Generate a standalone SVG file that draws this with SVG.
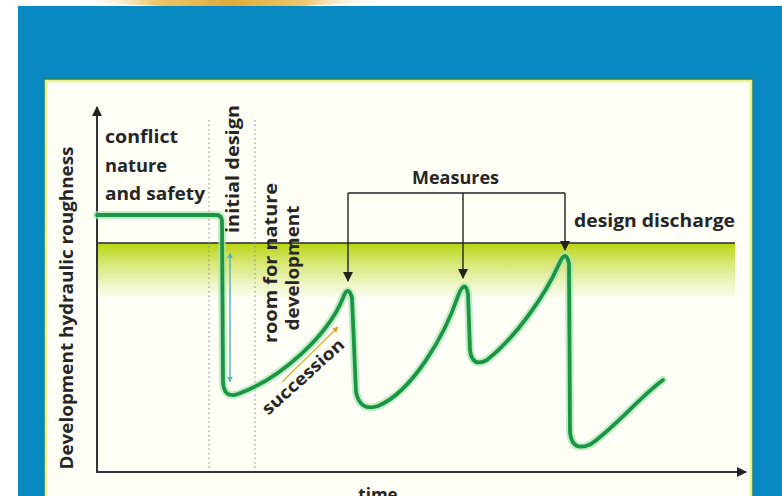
<svg xmlns="http://www.w3.org/2000/svg" width="782" height="496" viewBox="0 0 782 496">
<style>
.t{font-family:"Open Sans","DejaVu Sans",sans-serif;font-weight:700;font-size:17px;fill:#262626}
.ax{stroke:#333;stroke-width:2;fill:none}
.dot{stroke:#9a9a9a;stroke-width:1.2;stroke-dasharray:1.5 3;fill:none}
.con{stroke:#222;stroke-width:1.4;fill:none}
</style>
<defs>
<marker id="ah" viewBox="0 0 10 10" refX="9" refY="5" markerWidth="10" markerHeight="10" markerUnits="userSpaceOnUse" orient="auto">
<path d="M0,0 L10,5 L0,10 z" fill="#222"/>
</marker>
<marker id="ahs" viewBox="0 0 10 10" refX="9" refY="5" markerWidth="6" markerHeight="6" markerUnits="userSpaceOnUse" orient="auto-start-reverse">
<path d="M0,0 L10,5 L0,10 z" fill="#5ab4c8"/>
</marker>
<marker id="ahy" viewBox="0 0 10 10" refX="9" refY="5" markerWidth="6" markerHeight="6" markerUnits="userSpaceOnUse" orient="auto">
<path d="M0,0 L10,5 L0,10 z" fill="#d9a830"/>
</marker>
<linearGradient id="band" x1="0" y1="0" x2="0" y2="1">
<stop offset="0" stop-color="#b9d410"/>
<stop offset="0.35" stop-color="#d6e670"/>
<stop offset="0.75" stop-color="#eef5c6"/>
<stop offset="1" stop-color="#fbfdf0"/>
</linearGradient>
<linearGradient id="gold" x1="0" y1="0" x2="1" y2="0">
<stop offset="0" stop-color="#fff8e6" stop-opacity="0"/>
<stop offset="0.25" stop-color="#ecc670"/>
<stop offset="0.5" stop-color="#dfac3a"/>
<stop offset="0.75" stop-color="#ecc670"/>
<stop offset="1" stop-color="#fff8e6" stop-opacity="0"/>
</linearGradient>
</defs>
<rect width="782" height="496" fill="#ffffff"/>
<path d="M80,0 H380 Q330,7 230,7 Q130,7 80,0 z" fill="url(#gold)"/>
<rect x="18" y="6" width="764" height="490" fill="#0889c2"/>
<rect x="44" y="79" width="709" height="430" fill="none" stroke="#2d7f63" stroke-width="1.5"/>
<rect x="46" y="81" width="705" height="430" fill="#fefef6" stroke="#eef088" stroke-width="2.5"/>

<g id="band-area">
<rect x="97" y="243" width="638" height="55" fill="url(#band)"/>
<line x1="97" y1="243" x2="735" y2="243" stroke="#2a2a2a" stroke-width="1.5"/>
</g>

<g id="guides">
<line class="dot" x1="209" y1="120" x2="209" y2="470"/>
<line class="dot" x1="255" y1="120" x2="255" y2="470"/>
</g>

<g id="axes">
<line class="ax" x1="97" y1="472" x2="97" y2="107" marker-end="url(#ah)"/>
<line class="ax" x1="96" y1="472" x2="746" y2="472" marker-end="url(#ah)"/>
</g>

<g id="curve">
<path d="M97,215 H216 Q222,215 222,222 L223,382 Q224,399 238,394 C282,378 328,335 343,298 Q348,284 352,298 L356,392 Q360,412 378,406 C412,392 445,335 458,296 Q465,278 468,294 L470,350 Q472,368 487,360 C515,338 545,296 559,264 Q566,248 569,264 L570,432 Q572,453 591,444 C615,427 640,397 663,380" fill="none" stroke="#a6e6b0" stroke-width="8" stroke-linejoin="round" stroke-linecap="round" opacity="0.7"/>
<path d="M97,215 H216 Q222,215 222,222 L223,382 Q224,399 238,394 C282,378 328,335 343,298 Q348,284 352,298 L356,392 Q360,412 378,406 C412,392 445,335 458,296 Q465,278 468,294 L470,350 Q472,368 487,360 C515,338 545,296 559,264 Q566,248 569,264 L570,432 Q572,453 591,444 C615,427 640,397 663,380" fill="none" stroke="#1c9446" stroke-width="3.8" stroke-linejoin="round" stroke-linecap="round"/>
</g>

<g id="initial-drop-arrow">
<line x1="230" y1="253" x2="230" y2="382" stroke="#5ab4c8" stroke-width="1.5" marker-start="url(#ahs)" marker-end="url(#ahs)"/>
</g>

<g id="succession">
<line x1="282" y1="382" x2="338" y2="327" stroke="#d9b030" stroke-width="1.3" marker-end="url(#ahy)"/>
<text class="t" font-size="16" transform="translate(307,381) rotate(-42)" text-anchor="middle" textLength="104" lengthAdjust="spacingAndGlyphs">succession</text>
</g>

<g id="connectors">
<path class="con" d="M348,193 H565"/>
<line class="con" x1="348" y1="193" x2="348" y2="281" marker-end="url(#ah)"/>
<line class="con" x1="463" y1="193" x2="463" y2="278" marker-end="url(#ah)"/>
<line class="con" x1="565" y1="193" x2="565" y2="250" marker-end="url(#ah)"/>
</g>

<g id="label-conflict">
<text class="t" x="105" y="143" textLength="73" lengthAdjust="spacingAndGlyphs">conflict</text>
<text class="t" x="105" y="172" textLength="62" lengthAdjust="spacingAndGlyphs">nature</text>
<text class="t" x="105" y="200" textLength="100" lengthAdjust="spacingAndGlyphs">and safety</text>
</g>

<g id="label-initial-design">
<text class="t" transform="translate(239,169) rotate(-90)" text-anchor="middle" textLength="128" lengthAdjust="spacingAndGlyphs">initial design</text>
</g>

<g id="label-room">
<text class="t" transform="translate(277,263) rotate(-90)" text-anchor="middle" textLength="160" lengthAdjust="spacingAndGlyphs">room for nature</text>
<text class="t" transform="translate(299,268) rotate(-90)" text-anchor="middle" textLength="125" lengthAdjust="spacingAndGlyphs">development</text>
</g>

<g id="label-measures">
<text class="t" x="412" y="184" textLength="87" lengthAdjust="spacingAndGlyphs">Measures</text>
</g>

<g id="label-design-discharge">
<text class="t" x="574" y="227" textLength="161" lengthAdjust="spacingAndGlyphs">design discharge</text>
</g>

<g id="label-y">
<text class="t" transform="translate(73,308) rotate(-90)" text-anchor="middle" textLength="323" lengthAdjust="spacingAndGlyphs">Development hydraulic roughness</text>
</g>

<g id="label-time">
<text class="t" x="378" y="501" text-anchor="middle">time</text>
</g>
</svg>
